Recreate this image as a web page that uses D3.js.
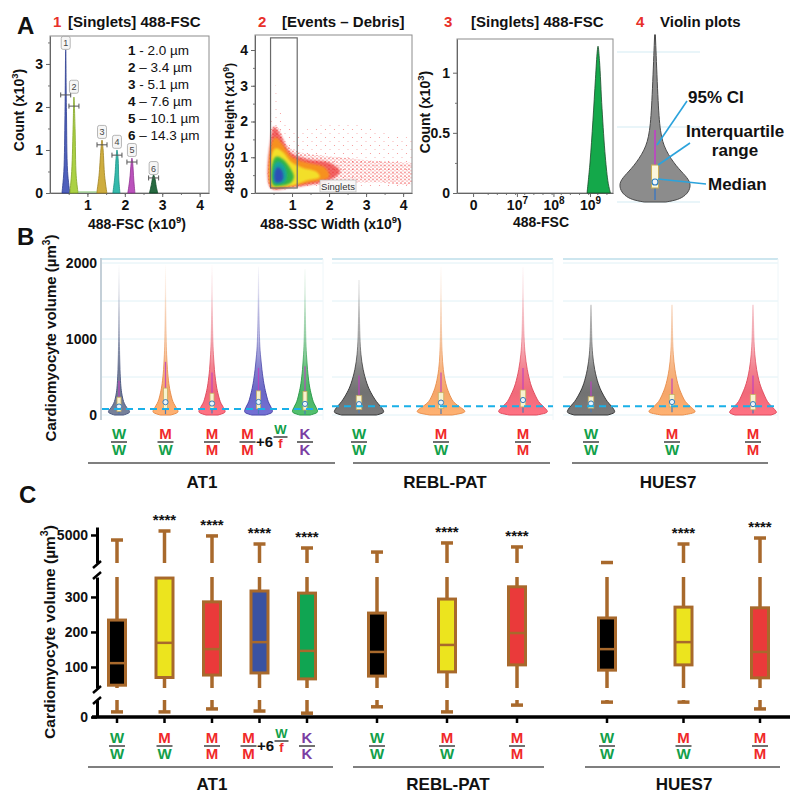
<!DOCTYPE html>
<html><head><meta charset="utf-8">
<script src="https://cdn.jsdelivr.net/npm/d3@7"></script>
<style>body{margin:0;background:#fff}</style>
</head><body>
<svg id="chart" width="800" height="803"></svg>
<script>
// ================= DATA =================
// Panel A1 – bead calibration histogram (488-FSC x10^9, count x10^3)
const beadIds = ["1","2","3","4","5","6"];
const beadSizes = ["2.0 µm","3.4 µm","5.1 µm","7.6 µm","10.1 µm","14.3 µm"];
const beadDashes = ["-","–","-","–","–","–"];
const beadColors = ["#3c4fb5","#a2cc30","#c9a42a","#1fb3a3","#b43fb5","#0f5a2c"];
const beadPeakX = [0.42,0.64,1.39,1.79,2.19,2.77];
const beadPeaks = [
  [[0.32,0],[0.37,0.5],[0.40,1.8],[0.42,3.33],[0.44,1.9],[0.47,0.5],[0.53,0]],
  [[0.53,0],[0.58,0.5],[0.62,1.6],[0.64,2.23],[0.67,1.5],[0.70,0.4],[0.75,0]],
  [[1.25,0],[1.31,0.4],[1.36,1.0],[1.39,1.23],[1.42,1.0],[1.46,0.4],[1.52,0]],
  [[1.68,0],[1.73,0.35],[1.77,0.85],[1.79,1.0],[1.82,0.8],[1.84,0.3],[1.87,0]],
  [[2.08,0],[2.13,0.3],[2.17,0.7],[2.19,0.81],[2.21,0.7],[2.24,0.3],[2.27,0]],
  [[2.66,0],[2.71,0.2],[2.75,0.38],[2.77,0.42],[2.80,0.36],[2.84,0.15],[2.88,0]]
];
const beadMarkerY = [2.28,2.02,1.12,0.88,0.72,0.35];
const beadLabelY = [3.49,2.47,1.42,1.19,1.0,0.58];
const a1XTicks = [1,2,3,4];
const a1YTicks = [0,1,2,3];

// Panel A2 – SSC width vs height scatter (x10^9)
const a2XTicks = [1,2,3,4];
const a2YTicks = [0,1,2,3,4];
const singletGateX = [0.42,1.14];
const singletGateY = [0.14,4.34];
const eventCloudSparse = [[0.42,0.12],[0.42,1.6],[0.47,2.4],[0.52,3.3],[0.62,2.6],[0.8,2.0],[1.2,1.75],[1.8,1.9],[2.5,1.95],[3.2,1.8],[3.8,1.6],[4.3,1.45],[4.3,0.2],[3.0,0.2],[2.0,0.16],[1.2,0.12]];
const eventCloudDense = [[0.42,0.14],[0.42,1.35],[0.5,1.85],[0.65,1.8],[0.85,1.35],[1.2,1.15],[1.8,1.05],[2.5,0.98],[3.2,0.9],[4.0,0.85],[4.3,0.8],[4.3,0.3],[3.2,0.3],[2.2,0.27],[1.4,0.2],[0.9,0.15]];
const densityContours = [
  [[0.43,0.14],[0.43,1.55],[0.52,1.85],[0.7,1.6],[0.95,1.15],[1.4,0.95],[2.0,0.85],[2.3,0.6],[2.0,0.35],[1.5,0.24],[1.0,0.16]],
  [[0.45,0.16],[0.44,1.35],[0.55,1.55],[0.75,1.35],[1.0,1.0],[1.4,0.85],[1.9,0.7],[2.0,0.45],[1.5,0.3],[1.0,0.2],[0.7,0.16]],
  [[0.47,0.18],[0.46,1.1],[0.56,1.25],[0.75,1.15],[1.0,0.85],[1.3,0.7],[1.65,0.6],[1.75,0.45],[1.4,0.35],[1.05,0.22],[0.7,0.18]],
  [[0.49,0.22],[0.49,0.9],[0.58,1.02],[0.75,0.95],[0.95,0.7],[1.05,0.45],[0.95,0.27],[0.7,0.2]],
  [[0.52,0.27],[0.52,0.78],[0.62,0.88],[0.78,0.78],[0.86,0.5],[0.8,0.3],[0.65,0.26]],
  [[0.55,0.31],[0.54,0.62],[0.62,0.72],[0.73,0.62],[0.76,0.4],[0.68,0.31]]
];
const densityColors = ["#ec2b2b","#f7941d","#f3e42a","#2cb34a","#17a3a0","#2e4bb8"];

// Panel A3 – singlets FSC histogram (log decades, count x10^3)
const a3XTickPos = [5.8,7,8,9];
const a3XTickBase = ["0","10","10","10"];
const a3XTickExp = ["","7","8","9"];
const a3YTicks = [0,0.5,1];
const singletFsc = [[8.92,0],[9.0,0.25],[9.08,0.6],[9.15,0.95],[9.2,1.18],[9.22,1.22],[9.26,1.1],[9.33,0.7],[9.42,0.3],[9.5,0.08],[9.56,0]];

// Panel A4 – example violin
const exampleLevels = [0,30,90,150,250,350,470,690,920,1360,2230];
const exampleDensity = [0.3,0.65,0.85,0.95,1.0,0.85,0.6,0.28,0.14,0.08,0.01];
const exampleMin = 27, exampleQ1 = 187, exampleMedian = 267, exampleQ3 = 493, exampleCI = 960;
const exampleGrid = [0,1000,2000];

// Panels B & C – cardiomyocyte volume (µm^3)
const groups = ["AT1","REBL-PAT","HUES7"];
const catNames = ["AT1 W/W","AT1 M/W","AT1 M/M","AT1 M/M+6W/f","AT1 K/K","REBL W/W","REBL M/W","REBL M/M","HUES7 W/W","HUES7 M/W","HUES7 M/M"];
const catGroup = ["AT1","AT1","AT1","AT1","AT1","REBL-PAT","REBL-PAT","REBL-PAT","HUES7","HUES7","HUES7"];
const numer = ["W","M","M","M","K","W","M","M","W","M","M"];
const denom = ["W","W","M","M","K","W","W","M","W","W","M"];
const extraPrefix = ["","","","+6","","","","","","",""];
const extraNum = ["","","","W","","","","","","",""];
const extraDen = ["","","","f","","","","","","",""];

const violinColors = ["#6e7890","#f5a66a","#f06a7a","#6b68c6","#4cb466","#727272","#f5a66a","#f06a7a","#727272","#f5a66a","#f06a7a"];
const violinOutlines = ["#4a5680","#e88e4c","#e04a5c","#4a47a8","#2a9a48","#383838","#e88e4c","#e04a5c","#383838","#e88e4c","#e04a5c"];
const violinLevels = [0,25,50,100,150,200,300,400,600,800,1000,1400,2000];
const violinDensity = [
  [0.30,0.70,0.73,0.50,0.35,0.26,0.16,0.11,0.06,0.04,0.025,0.012,0.004],
  [0.35,0.80,0.87,0.70,0.55,0.44,0.32,0.22,0.12,0.07,0.045,0.02,0.008],
  [0.40,0.85,0.90,0.76,0.60,0.50,0.37,0.27,0.15,0.09,0.05,0.02,0.008],
  [0.45,0.90,0.95,0.85,0.70,0.60,0.48,0.36,0.22,0.12,0.06,0.03,0.008],
  [0.35,0.80,0.87,0.74,0.60,0.50,0.38,0.27,0.16,0.09,0.05,0.02,0.008],
  [0.70,0.98,1.00,0.90,0.76,0.64,0.46,0.32,0.15,0.07,0.035,0.012,0.003],
  [0.45,0.90,1.00,0.78,0.56,0.43,0.30,0.19,0.08,0.045,0.025,0.01,0.004],
  [0.55,0.95,1.00,0.86,0.68,0.57,0.43,0.30,0.16,0.08,0.04,0.015,0.004],
  [0.70,0.98,1.00,0.90,0.75,0.62,0.45,0.30,0.14,0.06,0.03,0.01,0.003],
  [0.45,0.92,1.00,0.80,0.62,0.50,0.36,0.24,0.11,0.05,0.025,0.01,0.004],
  [0.75,1.00,0.97,0.82,0.66,0.55,0.42,0.28,0.14,0.07,0.035,0.012,0.004]
];
const violinTop = [1980,1980,1980,1950,1920,1776,1950,1950,1450,1450,1450];
const violinCI = [450,700,560,620,640,520,560,620,440,480,520];
const refLine = [80,115,115];
const bTicks = [0,1000,2000];
const bGrid = [0,500,1000,1500,2000];

const boxColors = ["#000000","#ece41e","#ea3a3a","#3a52a2","#10a552","#000000","#ece41e","#ea3a3a","#000000","#ece41e","#ea3a3a"];
const q1 = [48,70,77,83,66,74,86,106,91,106,69];
const med = [111,169,151,171,146,143,163,197,151,171,143];
const q3 = [234,354,286,317,311,254,294,329,240,271,269];
const vmax = [4470,5420,4900,4050,3630,3200,4160,3740,2100,4050,4680];
const vmin = [12,12,19,14,9,24,12,28,35,35,19];
const sig = [false,true,true,true,true,false,true,true,false,true,true];
const cUpperTicks = [5000];
const cMidTicks = [100,200,300];
const cLowTicks = [0];

// ================= RENDER =================
const FONT = "'Liberation Sans', Arial, Helvetica, sans-serif";
const RED = "#e8302a";
const fmtInt = d3.format("d");
const svg = d3.select("#chart");
const defs = svg.append("defs");
svg.append("rect").attr("width",800).attr("height",803).attr("fill","#ffffff");

function addText(parent,x,y,str,o={}){
  const size=o.size||14;
  const t=parent.append("text").attr("x",x).attr("y",y).attr("font-family",FONT)
    .attr("font-size",size).attr("font-weight",o.weight||"bold")
    .attr("text-anchor",o.anchor||"start").attr("fill",o.fill||"#111");
  if(o.rotate!==undefined) t.attr("transform",`rotate(${o.rotate},${x},${y})`);
  if(typeof str==="string") t.text(str);
  else str.forEach(p=>{
    const s=t.append("tspan").text(p.t);
    if(p.sup) s.attr("font-size",size*0.68).attr("dy",-size*0.42);
    if(p.after) s.attr("dy",size*0.42);
    if(p.fill) s.attr("fill",p.fill);
    if(p.weight) s.attr("font-weight",p.weight);
  });
  return t;
}
function styleAxis(g,size=14,col="#666"){
  g.attr("font-family",FONT).attr("font-size",size).attr("font-weight","bold");
  g.selectAll(".tick text").attr("fill","#111");
  g.select(".domain").attr("stroke",col);
  g.selectAll(".tick line").attr("stroke",col);
  return g;
}
function minor(parent,axis,tx,ty,col="#777"){
  const g=parent.append("g").attr("transform",`translate(${tx},${ty})`).call(axis);
  g.select(".domain").remove();
  g.selectAll(".tick text").remove();
  g.selectAll(".tick line").attr("stroke",col);
}

// Panel letters
addText(svg,17,34,"A",{size:24});
addText(svg,17,245,"B",{size:24});
addText(svg,19,503,"C",{size:24});

// ---------- A1 ----------
const a1 = svg.append("g");
const a1x = d3.scaleLinear().domain([0,4.25]).range([50,209]);
const a1y = d3.scaleLinear().domain([0,3.65]).range([193,36]);
a1.append("rect").attr("x",50).attr("y",36).attr("width",159).attr("height",157).attr("fill","none").attr("stroke","#8c8c8c");
minor(a1,d3.axisLeft(a1y).tickValues(d3.range(0.5,3.6,0.5)).tickSize(2),50,0);
minor(a1,d3.axisBottom(a1x).tickValues(d3.range(0.5,4.25,0.5)).tickSize(2),0,193);
styleAxis(a1.append("g").attr("transform","translate(50,0)").call(d3.axisLeft(a1y).tickValues(a1YTicks).tickFormat(fmtInt).tickSize(4).tickPadding(3).tickSizeOuter(0)));
styleAxis(a1.append("g").attr("transform","translate(0,193)").call(d3.axisBottom(a1x).tickValues(a1XTicks).tickFormat(fmtInt).tickSize(4).tickPadding(3).tickSizeOuter(0)));
const a1Area = d3.area().x(d=>a1x(d[0])).y0(a1y(0)).y1(d=>a1y(d[1])).curve(d3.curveCatmullRom);
beadPeaks.forEach((pk,i)=>{
  a1.append("path").attr("d",a1Area(pk)).attr("fill",beadColors[i]).attr("fill-opacity",0.9)
    .attr("stroke",d3.color(beadColors[i]).darker(0.6)).attr("stroke-width",0.8);
});
a1.append("line").attr("x1",a1x(0.75)).attr("x2",a1x(1.25)).attr("y1",192).attr("y2",192).attr("stroke","#6fbf5a").attr("stroke-width",1.5).attr("opacity",0.6);
beadPeakX.forEach((c,i)=>{
  const y=a1y(beadMarkerY[i]), x0=a1x(c)-5, x1=a1x(c)+5;
  a1.append("line").attr("x1",x0).attr("x2",x1).attr("y1",y).attr("y2",y).attr("stroke","#555").attr("stroke-width",1);
  [x0,x1].forEach(x=>a1.append("line").attr("x1",x).attr("x2",x).attr("y1",y-2.5).attr("y2",y+2.5).attr("stroke","#555").attr("stroke-width",1));
  const ly=a1y(beadLabelY[i]);
  a1.append("rect").attr("x",a1x(c)-4.5).attr("y",ly-6.5).attr("width",9).attr("height",13).attr("rx",2)
    .attr("fill","#f6f6f6").attr("stroke","#9a9a9a").attr("stroke-width",0.7);
  addText(a1,a1x(c),ly+3.5,beadIds[i],{size:9,weight:"normal",anchor:"middle",fill:"#444"});
});
beadIds.forEach((id,i)=>{
  addText(a1,128,55+i*17,[{t:id,weight:"bold"},{t:" "+beadDashes[i]+" "+beadSizes[i],weight:"normal"}],{size:13.5});
});
addText(svg,53,27,"1",{size:15,fill:RED});
addText(svg,68,27,"[Singlets] 488-FSC",{size:15});
addText(svg,24,110,[{t:"Count (x10"},{t:"3",sup:true},{t:")",after:true}],{size:14,anchor:"middle",rotate:-90});
addText(svg,137,229,[{t:"488-FSC (x10"},{t:"9",sup:true},{t:")",after:true}],{size:14,anchor:"middle"});

// ---------- A2 ----------
const a2 = svg.append("g");
const a2x = d3.scaleLinear().domain([0,4.24]).range([255,412]);
const a2y = d3.scaleLinear().domain([0,4.42]).range([193,35]);
defs.append("clipPath").attr("id","a2clip").append("rect").attr("x",255).attr("y",35).attr("width",157).attr("height",158);
const pS = defs.append("pattern").attr("id","dotsSparse").attr("patternUnits","userSpaceOnUse").attr("width",9).attr("height",8);
pS.append("circle").attr("cx",1.5).attr("cy",1.5).attr("r",0.6).attr("fill","#f04848");
pS.append("circle").attr("cx",6).attr("cy",5.5).attr("r",0.55).attr("fill","#f36a6a");
const pD = defs.append("pattern").attr("id","dotsDense").attr("patternUnits","userSpaceOnUse").attr("width",4).attr("height",3.5);
pD.append("circle").attr("cx",1).attr("cy",1).attr("r",0.8).attr("fill","#ee2a2a");
pD.append("circle").attr("cx",3).attr("cy",2.6).attr("r",0.7).attr("fill","#f04444");
const soft = defs.append("filter").attr("id","soft").attr("x","-20%").attr("y","-20%").attr("width","140%").attr("height","140%");
soft.append("feGaussianBlur").attr("stdDeviation",1.3);
const cloudLine = d3.line().x(d=>a2x(d[0])).y(d=>a2y(d[1])).curve(d3.curveCatmullRomClosed);
const a2c = a2.append("g").attr("clip-path","url(#a2clip)");
a2c.append("path").attr("d",cloudLine(eventCloudSparse)).attr("fill","url(#dotsSparse)").attr("opacity",0.6);
a2c.append("path").attr("d",cloudLine(eventCloudDense)).attr("fill","url(#dotsDense)").attr("opacity",0.7);
densityContours.forEach((c,i)=>{
  a2c.append("path").attr("d",cloudLine(c)).attr("fill",densityColors[i]).attr("opacity",i===0?0.7:0.95).attr("filter","url(#soft)");
});
a2.append("rect").attr("x",255).attr("y",35).attr("width",157).attr("height",158).attr("fill","none").attr("stroke","#8c8c8c");
minor(a2,d3.axisLeft(a2y).tickValues(d3.range(0.5,4.4,0.5)).tickSize(2),255,0);
minor(a2,d3.axisBottom(a2x).tickValues(d3.range(0.5,4.24,0.5)).tickSize(2),0,193);
styleAxis(a2.append("g").attr("transform","translate(255,0)").call(d3.axisLeft(a2y).tickValues(a2YTicks).tickFormat(fmtInt).tickSize(4).tickPadding(3).tickSizeOuter(0)));
styleAxis(a2.append("g").attr("transform","translate(0,193)").call(d3.axisBottom(a2x).tickValues(a2XTicks).tickFormat(fmtInt).tickSize(4).tickPadding(3).tickSizeOuter(0)));
a2.append("rect").attr("x",a2x(singletGateX[0])).attr("y",a2y(singletGateY[1]))
  .attr("width",a2x(singletGateX[1])-a2x(singletGateX[0])).attr("height",a2y(singletGateY[0])-a2y(singletGateY[1]))
  .attr("fill","none").attr("stroke","#6a6a6a").attr("stroke-width",1.2);
a2.append("rect").attr("x",320).attr("y",180).attr("width",36).attr("height",12).attr("fill","#f7f7f7").attr("fill-opacity",0.9).attr("stroke","#b5b5b5").attr("stroke-width",0.7);
addText(a2,338,189.5,"Singlets",{size:9.5,weight:"normal",anchor:"middle",fill:"#333"});
addText(svg,258,27,"2",{size:15,fill:RED});
addText(svg,282,27,"[Events – Debris]",{size:15});
addText(svg,234,128,[{t:"488-SSC Height (x10"},{t:"9",sup:true},{t:")",after:true}],{size:12.5,anchor:"middle",rotate:-90});
addText(svg,331,229,[{t:"488-SSC Width (x10"},{t:"9",sup:true},{t:")",after:true}],{size:14,anchor:"middle"});

// ---------- A3 ----------
const a3 = svg.append("g");
const a3x = d3.scaleLinear().domain([5.36,9.63]).range([457,613]);
const a3y = d3.scaleLinear().domain([0,1.28]).range([193,39]);
a3.append("rect").attr("x",457).attr("y",39).attr("width",156).attr("height",154).attr("fill","none").attr("stroke","#8c8c8c");
minor(a3,d3.axisBottom(a3x).tickValues(d3.range(6.2,9.6,0.25)).tickSize(2),0,193);
minor(a3,d3.axisLeft(a3y).tickValues([0.25,0.75]).tickSize(2),457,0);
styleAxis(a3.append("g").attr("transform","translate(457,0)").call(d3.axisLeft(a3y).tickValues(a3YTicks).tickSize(4).tickPadding(3).tickSizeOuter(0).tickFormat(d3.format("~g"))));
const a3xa = styleAxis(a3.append("g").attr("transform","translate(0,193)").call(d3.axisBottom(a3x).tickValues(a3XTickPos).tickSize(4).tickPadding(3).tickSizeOuter(0)));
a3xa.selectAll(".tick text").each(function(d,i){
  const t=d3.select(this); t.text(null);
  t.append("tspan").text(a3XTickBase[i]);
  if(a3XTickExp[i]) t.append("tspan").attr("dy",-6).attr("font-size",10).text(a3XTickExp[i]);
});
const a3Area = d3.area().x(d=>a3x(d[0])).y0(a3y(0)).y1(d=>a3y(d[1])).curve(d3.curveCatmullRom);
a3.append("path").attr("d",a3Area(singletFsc)).attr("fill","#14a84a").attr("stroke","#1b4a2a").attr("stroke-width",0.8);
addText(svg,444,27,"3",{size:15,fill:RED});
addText(svg,471,27,"[Singlets] 488-FSC",{size:15});
addText(svg,430,112,[{t:"Count (x10"},{t:"3",sup:true},{t:")",after:true}],{size:14,anchor:"middle",rotate:-90});
addText(svg,541,227,"488-FSC",{size:14,anchor:"middle"});

// ---------- A4 ----------
const a4 = svg.append("g");
const a4y = d3.scaleLinear().domain([0,2000]).range([202,52]);
const a4w = d3.scaleLinear().domain([0,1]).range([0,36]);
const a4cx = 655;
exampleGrid.forEach(v=>a4.append("line").attr("x1",617).attr("x2",700).attr("y1",a4y(v)).attr("y2",a4y(v)).attr("stroke","#d3ebf4").attr("stroke-width",1.2));
const exPts = exampleLevels.map((v,j)=>[v,exampleDensity[j]]);
const a4Area = d3.area().y(d=>a4y(d[0])).x0(d=>a4cx-a4w(d[1])).x1(d=>a4cx+a4w(d[1])).curve(d3.curveBasis);
a4.append("path").attr("d",a4Area(exPts)).attr("fill","#8c8c8c").attr("stroke","#4a4a4a").attr("stroke-width",1);
a4.append("line").attr("x1",a4cx).attr("x2",a4cx).attr("y1",a4y(exampleQ3)).attr("y2",a4y(exampleCI)).attr("stroke","#c23fc8").attr("stroke-width",1.6);
a4.append("line").attr("x1",a4cx).attr("x2",a4cx).attr("y1",a4y(exampleQ1)).attr("y2",a4y(exampleMin)).attr("stroke","#3d77c0").attr("stroke-width",1.4);
a4.append("rect").attr("x",a4cx-3.5).attr("y",a4y(exampleQ3)).attr("width",7).attr("height",a4y(exampleQ1)-a4y(exampleQ3)).attr("fill","#fbf7dc").attr("stroke","#c9ad55").attr("stroke-width",1);
a4.append("circle").attr("cx",a4cx).attr("cy",a4y(exampleMedian)).attr("r",3).attr("fill","#eef6fb").attr("stroke","#2f7fc0").attr("stroke-width",1.2);
const lead="#2ba3dc";
[[687,101,657,145],[690,143,658,165],[706,184,658,179]].forEach(l=>a4.append("line").attr("x1",l[0]).attr("y1",l[1]).attr("x2",l[2]).attr("y2",l[3]).attr("stroke",lead).attr("stroke-width",1.6));
addText(a4,688,103,"95% CI",{size:17});
addText(a4,686,137,"Interquartile",{size:17});
addText(a4,735,156,"range",{size:17,anchor:"middle"});
addText(a4,708,190,"Median",{size:17});
addText(svg,636,27,"4",{size:15,fill:RED});
addText(svg,660,27,"Violin plots",{size:15});

// ---------- shared label helpers for B & C ----------
const letterColor = {W:"#12a04a",M:"#f02a2a",K:"#7b3fa3",f:"#f02a2a"};
function fraction(parent,cx,barY,num,den,size=15,half=8){
  addText(parent,cx,barY-3,num,{size,anchor:"middle",fill:letterColor[num]});
  parent.append("line").attr("x1",cx-half).attr("x2",cx+half).attr("y1",barY).attr("y2",barY).attr("stroke","#333").attr("stroke-width",1.4);
  addText(parent,cx,barY+size*0.87,den,{size,anchor:"middle",fill:letterColor[den]});
}
function catLabel(parent,i,cx,barY){
  if(extraPrefix[i]){
    fraction(parent,cx-11,barY,numer[i],denom[i]);
    addText(parent,cx+6,barY+5,extraPrefix[i],{size:15,anchor:"middle"});
    fraction(parent,cx+22,barY-5,extraNum[i],extraDen[i],13,7);
  } else fraction(parent,cx,barY,numer[i],denom[i]);
}

// ---------- B ----------
const gB = svg.append("g");
const yB = d3.scaleLinear().domain([0,2000]).range([415,263]);
const bPanels = {"AT1":[102,323],"REBL-PAT":[332,553],"HUES7":[563,778]};
const bCenters = {"AT1":[119,305],"REBL-PAT":[359,523],"HUES7":[591,753]};
const bHalf = {"AT1":15,"REBL-PAT":25,"HUES7":24};
const bx = {};
groups.forEach(g=>{ bx[g]=d3.scalePoint().domain(catNames.filter((c,i)=>catGroup[i]===g)).range(bCenters[g]); });
groups.forEach((g,gi)=>{
  const [x0,x1]=bPanels[g];
  bGrid.forEach(v=>gB.append("line").attr("x1",x0).attr("x2",x1).attr("y1",yB(v)).attr("y2",yB(v)).attr("stroke","#e0f1f6").attr("stroke-width",1));
  gB.append("line").attr("x1",x0).attr("x2",x1).attr("y1",259).attr("y2",259).attr("stroke","#cde6ef").attr("stroke-width",2);
  gB.append("line").attr("x1",x1).attr("x2",x1).attr("y1",259).attr("y2",420).attr("stroke","#eef6f9").attr("stroke-width",1);
});
gB.append("line").attr("x1",101).attr("x2",101).attr("y1",258).attr("y2",420).attr("stroke","#9db0be").attr("stroke-width",1.2);
const bAx = styleAxis(gB.append("g").attr("transform","translate(101,0)").call(d3.axisLeft(yB).tickValues(bTicks).tickFormat(fmtInt).tickSize(0).tickPadding(4)));
bAx.select(".domain").remove();
addText(svg,56,338,[{t:"Cardiomyocyte volume (µm"},{t:"3",sup:true},{t:")",after:true}],{size:15,anchor:"middle",rotate:-90});

catNames.forEach((c,i)=>{
  const g=catGroup[i], cx=bx[g](c);
  const w=d3.scaleLinear().domain([0,1]).range([0,bHalf[g]]);
  const pts=violinLevels.map((v,j)=>[v,violinDensity[i][j]]).filter(p=>p[0]<violinTop[i]);
  pts.push([violinTop[i],0]);
  const gid="vg"+i, oid="vo"+i;
  [[gid,violinColors[i]],[oid,violinOutlines[i]]].forEach(([id,col],k)=>{
    const lg=defs.append("linearGradient").attr("id",id).attr("gradientUnits","userSpaceOnUse")
      .attr("x1",0).attr("x2",0).attr("y1",yB(0)).attr("y2",yB(2000));
    const base=d3.color(col);
    [[0,k?base:base.brighter(0.2),1],[0.15,base,1],[0.3,base,0.85],[0.5,base,0.45],[0.8,base,0.12],[1,base,0]].forEach(s=>{
      lg.append("stop").attr("offset",s[0]).attr("stop-color",s[1].formatHex()).attr("stop-opacity",s[2]);
    });
  });
  const area=d3.area().y(d=>yB(d[0])).x0(d=>cx-w(d[1])).x1(d=>cx+w(d[1])).curve(d3.curveBasis);
  gB.append("path").attr("d",area(pts)).attr("fill",`url(#${gid})`).attr("stroke",`url(#${oid})`).attr("stroke-width",1);
  const bw = g==="AT1"?4:5.5;
  gB.append("line").attr("x1",cx).attr("x2",cx).attr("y1",yB(q1[i])).attr("y2",yB(vmin[i])).attr("stroke","#4a7ab8").attr("stroke-width",1.2);
  gB.append("line").attr("x1",cx).attr("x2",cx).attr("y1",yB(q3[i])).attr("y2",yB(violinCI[i])).attr("stroke","#c040c0").attr("stroke-width",1.3).attr("opacity",0.85);
  gB.append("rect").attr("x",cx-bw/2).attr("y",yB(q3[i])).attr("width",bw).attr("height",yB(q1[i])-yB(q3[i]))
    .attr("fill","#f7f2cf").attr("stroke","#c8b060").attr("stroke-width",0.8);
  gB.append("circle").attr("cx",cx).attr("cy",yB(med[i])).attr("r",2.6).attr("fill","#e8f4fa").attr("stroke","#3a7ab8").attr("stroke-width",1);
  catLabel(svg,i,cx,442);
});
groups.forEach((g,gi)=>{
  const [x0,x1]=bPanels[g];
  gB.append("line").attr("x1",x0).attr("x2",x1).attr("y1",yB(refLine[gi])).attr("y2",yB(refLine[gi]))
    .attr("stroke","#1ab0e8").attr("stroke-width",2).attr("stroke-dasharray","7,5");
});
const bGroupLines = {"AT1":[88,335],"REBL-PAT":[353,550],"HUES7":[572,768]};
const bGroupNameX = {"AT1":202,"REBL-PAT":445,"HUES7":668};
groups.forEach(g=>{
  svg.append("line").attr("x1",bGroupLines[g][0]).attr("x2",bGroupLines[g][1]).attr("y1",463).attr("y2",463).attr("stroke","#555").attr("stroke-width",1.3);
  addText(svg,bGroupNameX[g],488,g,{size:17,anchor:"middle"});
});

// ---------- C ----------
const gC = svg.append("g");
const cUpper = d3.scaleLinear().domain([2050,5840]).range([563,527]);
const cMid = d3.scaleLinear().domain([40,357]).range([688,577]);
const cLow = d3.scaleLinear().domain([0,40]).range([717,700]);
const AX = 97;
[[cUpper,cUpperTicks],[cMid,cMidTicks],[cLow,cLowTicks]].forEach(([sc,tv])=>{
  const a=gC.append("g").attr("transform",`translate(${AX},0)`).call(d3.axisLeft(sc).tickValues(tv).tickSize(6).tickPadding(3).tickSizeOuter(0).tickFormat(fmtInt));
  styleAxis(a,14,"#000");
  a.select(".domain").attr("stroke-width",3);
  a.selectAll(".tick line").attr("stroke-width",2.5);
});
[[568,561],[579,572],[693,686],[704,697]].forEach(s=>gC.append("line").attr("x1",AX-4).attr("x2",AX+4).attr("y1",s[0]).attr("y2",s[1]).attr("stroke","#000").attr("stroke-width",2.5));
gC.append("line").attr("x1",92).attr("x2",790).attr("y1",717).attr("y2",717).attr("stroke","#000").attr("stroke-width",3.5);
addText(svg,55,632,[{t:"Cardiomyocyte volume (µm"},{t:"3",sup:true},{t:")",after:true}],{size:15.5,anchor:"middle",rotate:-90});

const cCenters = {"AT1":[117,307],"REBL-PAT":[377,517],"HUES7":[607,760]};
const cxs = {};
groups.forEach(g=>{ cxs[g]=d3.scalePoint().domain(catNames.filter((c,i)=>catGroup[i]===g)).range(cCenters[g]); });
const BR = "#a8692c";
catNames.forEach((c,i)=>{
  const x=cxs[catGroup[i]](c);
  const g=gC.append("g");
  const yTop=cUpper(vmax[i]);
  g.append("line").attr("x1",x).attr("x2",x).attr("y1",yTop).attr("y2",cUpper(2050)).attr("stroke",BR).attr("stroke-width",3.5);
  g.append("line").attr("x1",x-6).attr("x2",x+6).attr("y1",yTop).attr("y2",yTop).attr("stroke",BR).attr("stroke-width",3.5);
  g.append("line").attr("x1",x).attr("x2",x).attr("y1",cMid(q3[i])).attr("y2",cMid(357)).attr("stroke",BR).attr("stroke-width",3.5);
  g.append("line").attr("x1",x).attr("x2",x).attr("y1",cMid(q1[i])).attr("y2",cMid(40)).attr("stroke",BR).attr("stroke-width",3.5);
  g.append("rect").attr("x",x-8.5).attr("y",cMid(q3[i])).attr("width",17).attr("height",cMid(q1[i])-cMid(q3[i]))
    .attr("fill",boxColors[i]).attr("stroke",BR).attr("stroke-width",3);
  g.append("line").attr("x1",x-8.5).attr("x2",x+8.5).attr("y1",cMid(med[i])).attr("y2",cMid(med[i])).attr("stroke",BR).attr("stroke-width",2.5);
  const yMin=cLow(vmin[i]);
  g.append("line").attr("x1",x).attr("x2",x).attr("y1",cLow(40)).attr("y2",yMin).attr("stroke",BR).attr("stroke-width",3.5);
  g.append("line").attr("x1",x-6).attr("x2",x+6).attr("y1",yMin).attr("y2",yMin).attr("stroke",BR).attr("stroke-width",3.5);
  gC.append("line").attr("x1",x).attr("x2",x).attr("y1",717).attr("y2",723).attr("stroke","#000").attr("stroke-width",2.5);
  if(sig[i]) addText(gC,x,yTop-6,"****",{size:15,anchor:"middle"});
  catLabel(svg,i,x,746);
});
const cGroupLines = {"AT1":[88,333],"REBL-PAT":[353,544],"HUES7":[585,780]};
const cGroupNameX = {"AT1":212,"REBL-PAT":448,"HUES7":684};
groups.forEach(g=>{
  svg.append("line").attr("x1",cGroupLines[g][0]).attr("x2",cGroupLines[g][1]).attr("y1",767).attr("y2",767).attr("stroke","#555").attr("stroke-width",1.3);
  addText(svg,cGroupNameX[g],790,g,{size:17,anchor:"middle"});
});
</script>
</body></html>
